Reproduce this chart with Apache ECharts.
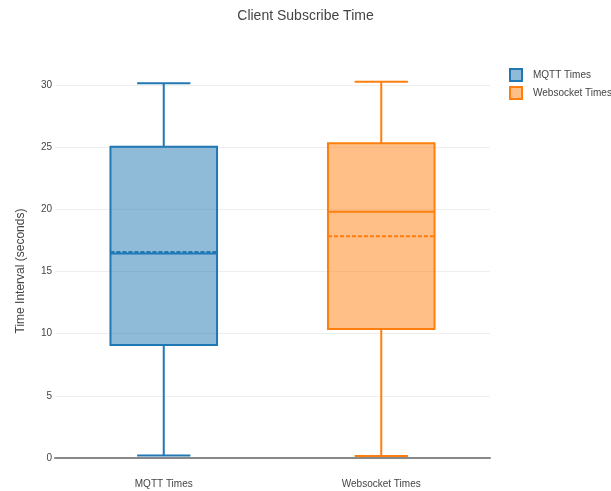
<!DOCTYPE html>
<html>
<head>
<meta charset="utf-8">
<script src="https://cdn.jsdelivr.net/npm/echarts@6/dist/echarts.min.js"></script>
<style>
  html, body { margin: 0; padding: 0; background: #fff; }
  #chart { width: 611px; height: 491px; }
</style>
</head>
<body>
<div id="chart"></div>
<script>
// Box statistics (seconds) for each client type
const categories = ['MQTT Times', 'Websocket Times'];
const lowerFence = [0.2, 0.16];
const q1Values = [9.09, 10.38];
const medians = [16.45, 19.79];
const q3Values = [25.02, 25.3];
const upperFence = [30.13, 30.25];
const means = [16.57, 17.82];
const yTicks = [0, 5, 10, 15, 20, 25, 30];

const colors = ['#1f77b4', '#ff7f0e'];
const fills = ['rgba(31,119,180,0.5)', 'rgba(255,127,14,0.5)'];
const FONT = '"Liberation Sans", Arial, sans-serif';

function renderBox(params, api) {
  const idx = api.value(0);
  const lo = api.value(1), q1 = api.value(2), med = api.value(3),
        q3 = api.value(4), hi = api.value(5), mean = api.value(6);
  const cx = api.coord([idx, 0])[0];
  const band = api.size([1, 0])[0];
  const boxW = band * 0.49;
  const capW = boxW / 2;
  const y = v => api.coord([idx, v])[1];
  const color = colors[params.seriesIndex];
  const fill = fills[params.seriesIndex];
  const line = (x1, y1, x2, y2, dash) => ({
    type: 'line',
    shape: { x1, y1, x2, y2 },
    style: { stroke: color, lineWidth: 2, lineDash: dash || null }
  });
  return {
    type: 'group',
    children: [
      line(cx, y(q3), cx, y(hi)),
      line(cx - capW / 2, y(hi), cx + capW / 2, y(hi)),
      line(cx, y(q1), cx, y(lo)),
      line(cx - capW / 2, y(lo), cx + capW / 2, y(lo)),
      {
        type: 'rect',
        shape: { x: cx - boxW / 2, y: y(q3), width: boxW, height: y(q1) - y(q3) },
        style: { fill: fill, stroke: color, lineWidth: 2 }
      },
      line(cx - boxW / 2, y(med), cx + boxW / 2, y(med)),
      line(cx - boxW / 2, y(mean), cx + boxW / 2, y(mean), [4, 2])
    ]
  };
}

const series = categories.map((name, i) => ({
  name: name,
  type: 'custom',
  renderItem: renderBox,
  encode: { x: 0, y: [1, 2, 3, 4, 5, 6] },
  itemStyle: { color: fills[i], borderColor: colors[i], borderWidth: 2 },
  data: [[i, lowerFence[i], q1Values[i], medians[i], q3Values[i], upperFence[i], means[i]]]
}));

const chart = echarts.init(document.getElementById('chart'));
chart.setOption({
  animation: false,
  textStyle: { fontFamily: FONT },
  title: {
    text: 'Client Subscribe Time',
    left: 'center',
    top: 4,
    textStyle: { fontSize: 14, fontWeight: 'normal', color: '#444', fontFamily: FONT }
  },
  legend: {
    orient: 'vertical',
    left: 504,
    top: 63,
    itemWidth: 12,
    itemHeight: 12,
    itemGap: 4,
    icon: 'rect',
    textStyle: { fontSize: 10, color: '#444', fontFamily: FONT, padding: [0, 0, 0, 6] },
    data: categories.map((name, i) => ({
      name: name,
      itemStyle: { color: fills[i], borderColor: colors[i], borderWidth: 2 }
    }))
  },
  grid: { left: 55, right: 121, top: 60, bottom: 33 },
  xAxis: {
    type: 'category',
    data: categories,
    axisLine: { show: true, lineStyle: { color: '#888', width: 2 } },
    axisTick: { show: false },
    axisLabel: { color: '#444', fontSize: 10, margin: 21, fontFamily: FONT },
    splitLine: { show: false }
  },
  yAxis: {
    type: 'value',
    min: 0,
    max: 32,
    name: 'Time Interval (seconds)',
    nameLocation: 'middle',
    nameGap: 28,
    nameTextStyle: { fontSize: 12, color: '#444', fontFamily: FONT, padding: [0, 24, 0, 0] },
    axisLine: { show: false },
    axisTick: { show: false, customValues: yTicks },
    axisLabel: { color: '#444', fontSize: 10, customValues: yTicks, margin: 3, fontFamily: FONT },
    splitLine: { show: true, lineStyle: { color: '#eee', width: 1 } }
  },
  series: series
});
</script>
</body>
</html>
